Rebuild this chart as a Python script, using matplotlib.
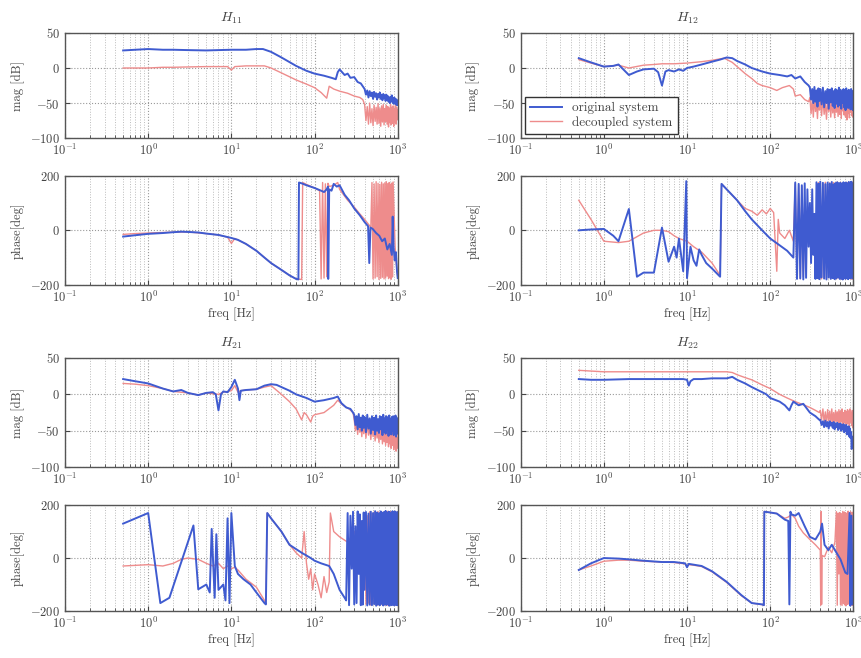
import matplotlib
matplotlib.use("Agg")
import matplotlib.pyplot as plt
from matplotlib.ticker import LogLocator, NullFormatter

plt.rcParams['font.family'] = 'serif'
plt.rcParams['font.serif'] = ['cmr10', 'DejaVu Serif']
plt.rcParams['mathtext.fontset'] = 'cm'
plt.rcParams['axes.formatter.use_mathtext'] = True
plt.rcParams['axes.unicode_minus'] = False

# frequency grids used for the noisy high-frequency parts [Hz]
grid_a = [200, 210, 220, 230, 240, 250, 260, 270, 280, 290,
          300, 310, 320, 330, 340, 350, 360, 370, 380, 390]
grid_b = [400, 415, 430, 445, 460, 475, 490, 505, 520, 535,
          550, 565, 580, 595, 610, 625, 640, 655, 670, 685,
          700, 715, 730, 745, 760, 775, 790, 805, 820, 835,
          850, 865, 880, 895, 910, 925, 940, 955, 970, 985, 1000]

# ---------------- H11 ----------------
h11_mag_orig_f = [0.5, 0.7, 1, 1.5, 2, 3, 5, 7, 10, 15, 20, 24, 30, 40, 60, 80, 100,
                  130, 160, 180, 190, 200, 230, 250, 270, 300, 330, 360, 390]
h11_mag_orig = [25, 26, 27, 26, 26, 25.5, 25, 25.5, 26, 26, 27, 27, 23, 15, 3, -4, -8,
                -11, -14, -16, -6, -2, -10, -8, -14, -13, -20, -22, -28]
h11_mag_orig_band = [-30, -38, -32, -42, -33, -40, -35, -44, -34, -41,
                     -36, -45, -37, -42, -35, -44, -38, -46, -37, -43,
                     -39, -47, -38, -45, -40, -48, -42, -50, -41, -47,
                     -39, -49, -43, -51, -42, -48, -44, -52, -45, -53, -50]
h11_mag_dec_f = [0.5, 0.7, 1, 1.5, 2, 3, 5, 7, 9, 10, 11, 15, 20, 25, 30, 40, 60, 80,
                 100, 120, 140, 150, 170, 200, 250, 300, 350, 380]
h11_mag_dec = [0, 0, 0, 1, 1, 1.5, 2, 2, 2, -3, 2, 3, 3, 3, 0, -7, -17, -23,
               -28, -35, -43, -26, -30, -33, -36, -40, -42, -45]
h11_mag_dec_band = [-52, -75, -55, -80, -50, -78, -58, -82, -53, -76,
                    -56, -80, -51, -79, -57, -83, -54, -77, -52, -81,
                    -58, -76, -53, -80, -55, -84, -57, -78, -52, -81,
                    -56, -79, -54, -83, -58, -77, -53, -80, -56, -74, -60]

h11_ph_orig_f = [0.5, 0.7, 1, 1.5, 2, 2.5, 3, 4, 5, 7,
                 10, 12, 15, 20, 25, 30, 40, 50, 60, 64,
                 65, 70, 80, 100, 120, 130, 140, 145, 146, 150,
                 160, 170, 185, 200, 230, 260, 300, 350, 400, 440,
                 455, 470, 500, 550, 600, 650, 700, 750, 800, 850,
                 870, 890, 920, 950, 980, 1000]
h11_ph_orig = [-23, -18, -13, -10, -7, -5, -6, -8, -12, -17,
               -28, -35, -50, -75, -100, -120, -145, -165, -178, -180,
               175, 172, 165, 155, 145, 140, 150, 160, -178, 150,
               145, 170, 160, 165, 130, 110, 80, 55, 30, 15,
               -120, 10, 5, -10, -20, -40, -30, -70, -50, -90,
               50, -60, -110, -80, -150, -175]
h11_ph_dec_f = [0.5, 0.7, 1, 1.5, 2, 3, 5, 7, 9, 10,
                11, 15, 20, 30, 40, 50, 60, 70, 72, 80,
                100, 115, 120, 125, 130, 135, 140, 145, 150, 170,
                190, 200, 250, 300, 350, 400, 450, 475]
h11_ph_dec = [-15, -12, -10, -8, -7, -6, -12, -17, -25, -48,
              -30, -50, -75, -120, -145, -165, -178, -180, 175, 168,
              155, 145, -178, 175, -175, 170, -170, 172, 160, 165,
              175, 150, 110, 85, 60, 40, 20, 10]
h11_ph_dec_band = [175, -178, 170, -175, 178, -170, 172, -180, 168, -176,
                   176, -172, 170, -178, 174, -175, 178, -168, 171, -177,
                   175, -174, 169, -179, 173, -171, 177]
h11_ph_dec_tail_f = [930, 960, 1000]
h11_ph_dec_tail = [-60, -120, -170]

# ---------------- H12 ----------------
h12_mag_orig_f = [0.5, 0.7, 1, 1.3, 1.5, 2, 2.5, 3, 4, 4.5,
                  5, 5.5, 6, 7, 8, 9, 10, 12, 15, 20,
                  25, 30, 35, 40, 50, 60, 80, 100, 130, 160,
                  180, 200, 230, 260, 290]
h12_mag_orig = [14, 8, 2, 3, 5, -10, -5, -2, -1, -6,
                -25, -5, -3, -5, -2, -4, 0, 2, 5, 9,
                12, 15, 14, 10, 5, 0, -5, -8, -10, -12,
                -10, -15, -12, -20, -25]
h12_mag_orig_band = [-28, -45, -30, -50, -27, -48, -32, -55, -29, -47,
                     -30, -52, -28, -56, -33, -50, -30, -58, -31, -49,
                     -29, -54, -33, -57, -30, -51, -32, -55, -28, -53,
                     -31, -58, -34, -50, -30, -56, -32, -60, -29, -52,
                     -33, -57, -31, -54, -35, -59, -30, -55, -33, -60, -40]
h12_mag_dec_f = [0.5, 0.7, 1, 1.5, 2, 3, 4, 5, 7, 10,
                 15, 20, 28, 35, 40, 50, 60, 70, 80, 100,
                 120, 140, 170, 190, 200, 230, 260, 290]
h12_mag_dec = [12, 7, 2, 4, 0, 4, 5, 6, 6, 7,
               9, 11, 14, 8, 2, -8, -15, -22, -25, -28,
               -32, -28, -25, -30, -40, -38, -45, -48]
h12_mag_dec_band = [-42, -65, -45, -70, -40, -62, -48, -72, -44, -60,
                    -46, -68, -42, -66, -50, -73, -45, -62, -47, -70,
                    -43, -64, -49, -71, -44, -63, -46, -69, -41, -66,
                    -48, -72, -45, -61, -47, -67, -43, -70, -50, -74,
                    -46, -65, -44, -71, -49, -63, -45, -68, -42, -70, -55]

h12_ph_orig_f = [0.5, 0.7, 1, 1.3, 1.5, 2, 2.5, 3, 4, 5,
                 6, 7, 7.5, 8, 9, 9.8, 10, 10.2, 11, 12,
                 13, 14, 15, 17, 20, 25, 26, 30, 40, 50,
                 60, 80, 100, 130, 160, 190]
h12_ph_orig = [0, 3, 5, -20, -40, 78, -170, -155, -155, 10,
               -115, -60, -100, -30, -150, 180, -175, -150, -60, -110,
               -130, -70, -90, -120, -140, -170, 170, 150, 110, 70,
               40, 0, -30, -55, -75, -100]
h12_ph_orig_band = [175, -178, 170, -176, 165, -180, 172, -174, 150, -60,
                    100, -120, 150, -90, 60, -178, 176, -175, 170, -179,
                    178, -172, 174, -177, 169, -180, 175, -173, 171, -178,
                    177, -175, 168, -179, 173, -176, 176, -170, 172, -178,
                    174, -177, 170, -180, 176, -174, 171, -178, 175, -172,
                    169, -179, 177, -175, 173, -176, 178, -171, 170, -177, 175]
h12_ph_dec_f = [0.5, 0.7, 1, 1.5, 2, 3, 4, 5, 6, 7,
                8, 10, 12, 15, 20, 25, 26, 30, 40, 50,
                60, 70, 80, 90, 100, 110, 120, 125, 130, 150,
                170, 190]
h12_ph_dec = [110, 40, -40, -45, -40, -10, 0, 0, -5, -20,
              -30, -40, -60, -80, -120, -165, 170, 150, 110, 80,
              70, 55, 75, 60, 80, 65, -150, 40, -10, -30,
              0, -40]
h12_ph_dec_band = [170, -175, 165, -178, 160, -170, 100, -40, 60, -20,
                   50, -60, 30, -10, 40, -80, 20, -30, 175, -175,
                   172, -178, 168, -174, 176, -179, 170, -172, 174, -177,
                   171, -176, 175, -173, 169, -178, 177, -175, 172, -170,
                   176, -179, 170, -174, 173, -177, 168, -176, 175, -172,
                   174, -178, 171, -175, 177, -173, 169, -179, 176, -171, 170]

# ---------------- H21 ----------------
h21_mag_orig_f = [0.5, 0.7, 1, 1.5, 2, 2.5, 3, 4, 5, 6,
                  6.5, 7, 7.5, 8, 9, 10, 11, 12, 12.5, 13,
                  15, 20, 25, 30, 35, 40, 50, 60, 80, 100,
                  130, 170, 190, 210, 240, 270, 290]
h21_mag_orig = [21, 18, 15, 8, 4, 6, 2, -1, 2, 3,
                0, -22, 0, 4, 3, 10, 20, 8, -8, 5,
                6, 7, 12, 14, 13, 10, 5, 0, -5, -10,
                -8, -5, -3, -12, -18, -20, -25]
h21_mag_orig_band = [-28, -42, -30, -48, -27, -45, -32, -50, -29, -46,
                     -31, -52, -28, -47, -33, -54, -30, -49, -32, -55,
                     -29, -50, -34, -53, -30, -48, -31, -56, -28, -51,
                     -33, -54, -30, -49, -32, -57, -29, -52, -34, -55,
                     -31, -50, -30, -56, -33, -53, -29, -58, -32, -54, -45]
h21_mag_dec_f = [0.5, 0.7, 1, 1.5, 2, 3, 4, 5, 7, 8,
                 10, 11, 12, 13, 15, 20, 25, 30, 40, 50,
                 60, 65, 70, 75, 80, 90, 95, 100, 130, 170,
                 190, 220, 260, 290]
h21_mag_dec = [15, 14, 12, 8, 4, 2, -1, 2, 0, 3,
               5, 12, 3, 5, 6, 7, 10, 12, 0, -10,
               -20, -28, -35, -25, -28, -38, -30, -28, -25, -15,
               -8, -15, -20, -25]
h21_mag_dec_band = [-35, -50, -38, -55, -36, -52, -40, -58, -37, -54,
                    -42, -60, -39, -56, -44, -62, -40, -58, -43, -64,
                    -41, -60, -45, -66, -42, -62, -46, -68, -43, -65,
                    -47, -70, -44, -66, -48, -72, -45, -68, -49, -74,
                    -46, -70, -50, -76, -47, -72, -51, -78, -48, -74, -60]

h21_ph_orig_f = [0.5, 1, 1.4, 1.8, 3.5, 4, 5, 5.5, 5.8, 6.3,
                 6.6, 7, 8, 8.5, 9, 9.5, 10, 11, 12, 14,
                 17, 20, 25, 26, 27, 30, 40, 50, 70, 90,
                 100, 120, 150, 170, 200, 230, 240]
h21_ph_orig = [130, 170, -170, -150, 123, -118, -100, -130, 110, -150,
               90, -120, -100, -160, 150, -170, 170, -30, -60, -80,
               -100, -130, -170, -175, 170, 150, 100, 50, 20, 0,
               -10, -20, -30, -60, -120, -150, -160]
h21_ph_orig_band = [170, -178, 160, -40, 175, -175, 120, -170, 176, -60,
                    165, -178, 140, -176, 172, -120, 174, -179, 168, -176,
                    175, -178, 170, -174, 177, -180, 172, -176, 169, -178,
                    176, -173, 171, -179, 174, -175, 178, -177, 170, -172,
                    175, -180, 173, -176, 169, -178, 177, -174, 172, -179,
                    176, -175, 171, -177, 174, -178]
h21_ph_dec_f = [0.5, 1, 1.5, 2, 2.5, 3, 4, 5, 6, 7,
                8, 9, 10, 11, 12, 15, 20, 25, 26, 27,
                30, 40, 50, 60, 70, 75, 80, 85, 90, 95,
                100, 110, 120, 130, 140, 150, 155, 170, 200, 250,
                300, 350, 390]
h21_ph_dec = [-30, -25, -30, -20, -5, 0, -5, -20, -30, -20,
              -40, -30, -40, -35, -45, -80, -110, -160, -175, 170,
              150, 100, 50, 20, 0, 100, -20, -80, -40, -120,
              -60, -100, -150, -70, -130, -90, 170, 100, 80, 60,
              100, 40, -10]
h21_ph_dec_band = [170, -175, 160, -170, 175, -178, 168, -172, 174, -176,
                   171, -179, 176, -173, 169, -177, 175, -174, 172, -178,
                   173, -176, 170, -179, 177, -175, 168, -171, 175, -178,
                   174, -172, 171, -177, 176, -179, 169, -174, 173, -176, 170]

# ---------------- H22 ----------------
h22_mag_orig_f = [0.5, 0.7, 1, 2, 3, 5, 7, 9, 10, 10.5,
                  11, 12, 15, 20, 30, 35, 40, 50, 60, 80,
                  90, 100, 130, 150, 170, 180, 190, 220, 250, 300,
                  350, 390]
h22_mag_orig = [21, 20, 20, 21, 21, 21, 21, 21, 20, 12,
                18, 21, 21, 22, 22, 24, 20, 15, 10, 3,
                0, -5, -10, -15, -22, -15, -10, -15, -13, -25,
                -30, -35]
h22_mag_orig_band = [-35, -42, -37, -45, -36, -44, -38, -47, -37, -43,
                     -39, -46, -38, -48, -40, -45, -39, -49, -41, -47,
                     -40, -50, -42, -48, -41, -52, -43, -50, -42, -55,
                     -45, -53, -44, -58, -47, -60, -52, -75, -58, -70, -60]
h22_mag_dec_f = [0.5, 0.7, 1, 2, 3, 5, 7, 10, 15, 20,
                 30, 35, 40, 50, 60, 80, 100, 130, 160, 200,
                 260, 300, 350, 390]
h22_mag_dec = [33, 32, 31, 31, 31, 31, 31, 31, 31, 31,
               31, 30, 27, 23, 20, 13, 8, 0, -5, -10,
               -15, -18, -22, -25]
h22_mag_dec_band = [-22, -35, -20, -38, -24, -40, -21, -36, -23, -42,
                    -20, -39, -25, -41, -22, -37, -24, -43, -21, -40,
                    -23, -38, -20, -42, -25, -39, -22, -44, -24, -41,
                    -21, -40, -23, -45, -20, -38, -25, -43, -22, -46, -30]

h22_ph_orig_f = [0.5, 0.7, 1, 1.5, 2, 3, 5, 7, 9.5, 10,
                 10.5, 12, 15, 20, 30, 45, 60, 80, 84, 85,
                 100, 120, 150, 165, 170, 175, 180, 200, 220, 260,
                 300, 350, 400, 420, 450, 500, 550, 600,
                 700, 800, 850, 900, 920, 950, 980, 1000]
h22_ph_orig = [-45, -20, 0, -2, -5, -10, -15, -15, -20, -35,
               -22, -25, -30, -50, -90, -140, -170, -175, -178, 175,
               172, 168, 145, 140, -175, 175, 165, 160, 170, 120,
               80, 70, 100, 130, 50, 30, 50, 30,
               -5, -55, -60, 170, -180, 160, -175, -100]
h22_ph_dec_f = [0.5, 0.7, 1, 1.5, 2, 3, 5, 7, 9.5, 10,
                10.5, 12, 15, 20, 30, 45, 60, 80, 84, 85,
                100, 120, 150, 165, 180, 200, 220, 250, 300, 350,
                400, 405, 410, 415, 420, 450, 500, 550, 600]
h22_ph_dec = [-45, -30, -12, -8, -8, -12, -15, -17, -22, -30,
              -25, -27, -32, -52, -92, -142, -170, -176, -178, 176,
              172, 168, 150, 155, 165, 150, 120, 95, 70, 50,
              30, -178, 176, -175, 10, 5, 40, 20, 60]
h22_ph_dec_band = [175, -178, 170, -60, 172, -176, 168, -179, 176, -172,
                   174, -177, 171, -180, 169, -175, 177, -173, 172, -178,
                   175, -176, 170, -179, 173, -174]

panels = [
    ("$H_{11}$", [0.0754, 0.790, 0.386, 0.160], [0.0754, 0.567, 0.386, 0.166],
     (h11_mag_orig_f + grid_b, h11_mag_orig + h11_mag_orig_band),
     (h11_mag_dec_f + grid_b, h11_mag_dec + h11_mag_dec_band),
     (h11_ph_orig_f, h11_ph_orig),
     (h11_ph_dec_f + grid_b[6:33] + h11_ph_dec_tail_f,
      h11_ph_dec + h11_ph_dec_band + h11_ph_dec_tail)),
    ("$H_{12}$", [0.604, 0.790, 0.386, 0.160], [0.604, 0.567, 0.386, 0.166],
     (h12_mag_orig_f + grid_a[10:] + grid_b, h12_mag_orig + h12_mag_orig_band),
     (h12_mag_dec_f + grid_a[10:] + grid_b, h12_mag_dec + h12_mag_dec_band),
     (h12_ph_orig_f + grid_a + grid_b, h12_ph_orig + h12_ph_orig_band),
     (h12_ph_dec_f + grid_a + grid_b, h12_ph_dec + h12_ph_dec_band)),
    ("$H_{21}$", [0.0754, 0.290, 0.386, 0.166], [0.0754, 0.0714, 0.386, 0.161],
     (h21_mag_orig_f + grid_a[10:] + grid_b, h21_mag_orig + h21_mag_orig_band),
     (h21_mag_dec_f + grid_a[10:] + grid_b, h21_mag_dec + h21_mag_dec_band),
     (h21_ph_orig_f + grid_a[5:] + grid_b, h21_ph_orig + h21_ph_orig_band),
     (h21_ph_dec_f + grid_b, h21_ph_dec + h21_ph_dec_band)),
    ("$H_{22}$", [0.604, 0.290, 0.386, 0.166], [0.604, 0.0714, 0.386, 0.161],
     (h22_mag_orig_f + grid_b, h22_mag_orig + h22_mag_orig_band),
     (h22_mag_dec_f + grid_b, h22_mag_dec + h22_mag_dec_band),
     (h22_ph_orig_f, h22_ph_orig),
     (h22_ph_dec_f + grid_b[15:], h22_ph_dec + h22_ph_dec_band)),
]

blue = '#3f5bd0'
red = '#ee8c8c'
txt = '#444444'


def style(ax):
    ax.set_xscale('log')
    ax.set_xlim(0.1, 1000)
    ax.xaxis.set_major_locator(LogLocator(base=10, numticks=10))
    ax.xaxis.set_minor_locator(LogLocator(base=10, subs=range(2, 10), numticks=10))
    ax.xaxis.set_minor_formatter(NullFormatter())
    ax.grid(True, which='major', linestyle=':', color='#999999', linewidth=0.8)
    ax.grid(True, which='minor', axis='x', linestyle=':', color='#bbbbbb', linewidth=0.7)
    ax.tick_params(which='both', direction='in', colors=txt, labelsize=9)
    ax.tick_params(which='minor', length=2)
    for s in ax.spines.values():
        s.set_color('#555555')
        s.set_linewidth(1.0)


fig = plt.figure(figsize=(8.62, 6.58), dpi=100)

for i, (title, pos_mag, pos_ph, mag_o, mag_d, ph_o, ph_d) in enumerate(panels):
    axm = fig.add_axes(pos_mag)
    axp = fig.add_axes(pos_ph)

    axm.plot(mag_d[0], mag_d[1], color=red, linewidth=1.0, label='decoupled system')
    axm.plot(mag_o[0], mag_o[1], color=blue, linewidth=1.4, label='original system')
    axp.plot(ph_d[0], ph_d[1], color=red, linewidth=1.0)
    axp.plot(ph_o[0], ph_o[1], color=blue, linewidth=1.4)

    style(axm)
    style(axp)
    axm.set_ylim(-100, 50)
    axm.set_yticks([-100, -50, 0, 50])
    axp.set_ylim(-200, 200)
    axp.set_yticks([-200, 0, 200])

    axm.set_title(title, fontsize=10, color=txt, pad=8)
    axm.set_ylabel('mag [dB]', fontsize=9, color=txt)
    axp.set_ylabel('phase[deg]', fontsize=9, color=txt)
    axp.set_xlabel('freq [Hz]', fontsize=9, color=txt, labelpad=2)

    if i == 1:
        h, l = axm.get_legend_handles_labels()
        leg = axm.legend(h[::-1], l[::-1], loc='lower left', fontsize=9.5,
                         fancybox=False, framealpha=1, borderaxespad=0.3,
                         handlelength=2.4, labelspacing=0.15)
        leg.get_frame().set_edgecolor('#333333')
        for t in leg.get_texts():
            t.set_color(txt)

fig.savefig('out.png', dpi=100)
